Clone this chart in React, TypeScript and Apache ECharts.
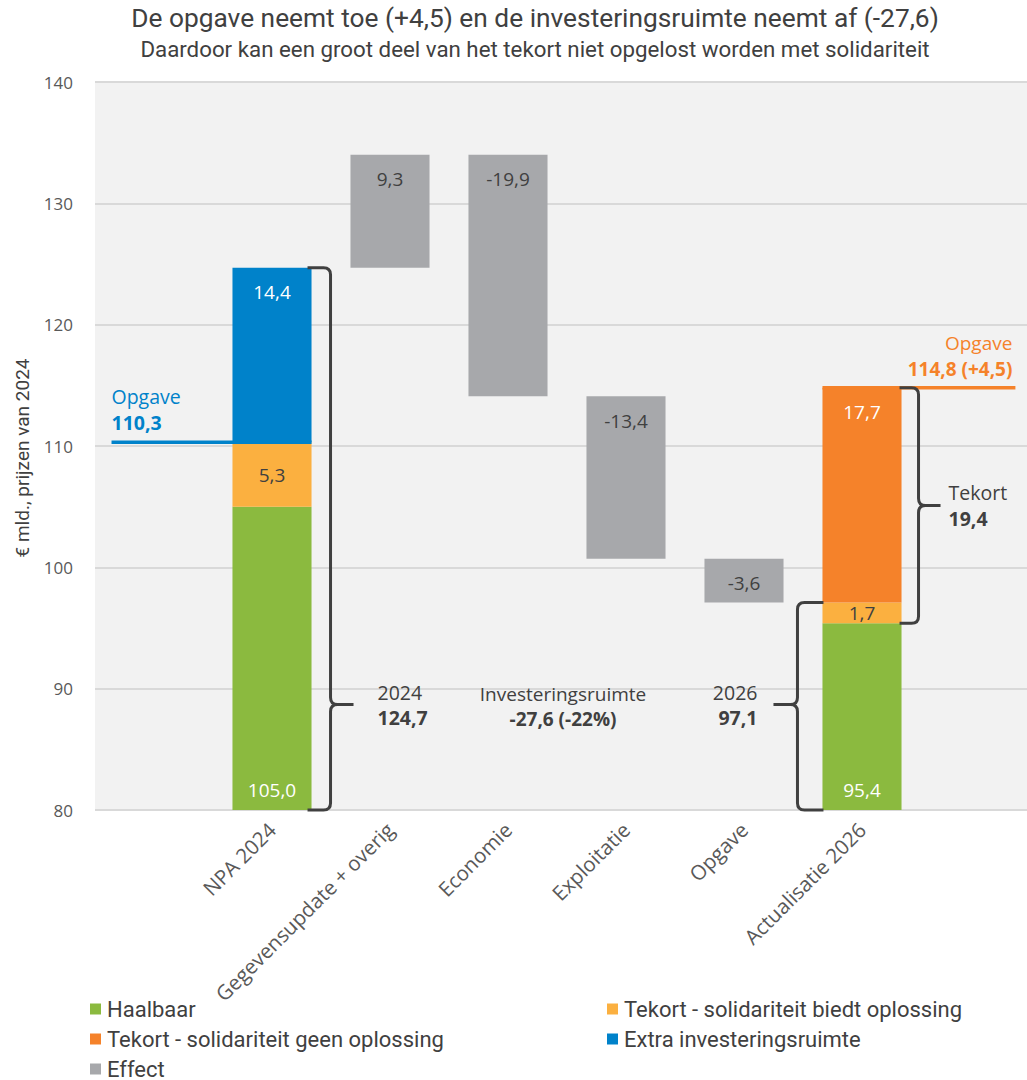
import React, { useEffect, useRef } from 'react';
import * as echarts from 'echarts';

// ---------- data ----------
const categories = [' ', 'NPA 2024', 'Gegevensupdate + overig', 'Economie', 'Exploitatie', 'Opgave', 'Actualisatie 2026', '  '];
const yTicks = [80, 90, 100, 110, 120, 130, 140];

const haalbaar = [null, 105.0, null, null, null, null, 95.4, null];
const tekortBiedt = [null, 5.3, null, null, null, null, 1.7, null];
const tekortGeen = [null, null, null, null, null, null, 17.7, null];
const extraRuimte = [null, 14.4, null, null, null, null, null, null];
const effects = [null, null, 9.3, -19.9, -13.4, -3.6, null, null];

const opgave2024 = 110.3;
const opgave2026 = 114.8;
const opgaveDelta = 4.5;
const totaal2024 = 124.7;
const totaal2026 = 97.1;
const tekort2026 = 19.4;
const investeringsDelta = -27.6;
const investeringsPct = -22;

const seriesNames = [
  'Haalbaar',
  'Tekort - solidariteit biedt oplossing',
  'Tekort - solidariteit geen oplossing',
  'Extra investeringsruimte',
  'Effect',
];

// ---------- helpers ----------
const fmt = (v: number) => v.toFixed(1).replace('.', ',');
const FONT = "'Open Sans', 'Noto Sans', sans-serif";
const COND = "'Roboto', 'Noto Sans', sans-serif";
const DARK = '#404040';
const GREY_TXT = '#595959';
const C_GREEN = '#8BBA3F';
const C_LORANGE = '#FBB040';
const C_ORANGE = '#F5822A';
const C_BLUE = '#0082CA';
const C_GREY = '#A7A8AB';

// waterfall base and heights for effect bars
const baseVals: (number | null)[] = categories.map(() => null);
const effectHeights: (number | null)[] = categories.map(() => null);
{
  let running = totaal2024;
  effects.forEach((e, i) => {
    if (e == null) return;
    const next = running + e;
    baseVals[i] = Math.min(running, next);
    effectHeights[i] = Math.abs(e);
    running = next;
  });
}

function bracePath(xs: number, y1: number, y2: number, ym: number, d: number, xa: number, xt: number, r: number) {
  return [
    `M ${xa} ${y1}`,
    `L ${xs - d * r} ${y1}`,
    `Q ${xs} ${y1} ${xs} ${y1 + r}`,
    `L ${xs} ${ym - r}`,
    `Q ${xs} ${ym} ${xs + d * r} ${ym}`,
    `L ${xt} ${ym}`,
    `M ${xs + d * r} ${ym}`,
    `Q ${xs} ${ym} ${xs} ${ym + r}`,
    `L ${xs} ${y2 - r}`,
    `Q ${xs} ${y2} ${xs - d * r} ${y2}`,
    `L ${xa} ${y2}`,
  ].join(' ');
}

const legendItems = [
  { name: seriesNames[0], left: 90, top: 998 },
  { name: seriesNames[1], left: 607, top: 998 },
  { name: seriesNames[2], left: 90, top: 1028 },
  { name: seriesNames[3], left: 607, top: 1028 },
  { name: seriesNames[4], left: 90, top: 1058 },
];

export default function App() {
  const ref = useRef<HTMLDivElement>(null);

  useEffect(() => {
    if (!ref.current) return;
    const chart = echarts.init(ref.current, null, { renderer: 'svg' });

    const barLabel = (position: string, color: string, distance = 15) => ({
      show: true,
      position,
      distance,
      color,
      fontFamily: FONT,
      fontSize: 19,
      formatter: (p: any) => fmt(p.value),
    });

    const renderAnnotations = (params: any, api: any) => {
      const band = api.size([1, 0])[0];
      const bw = band * 0.67;
      const X = (i: number) => api.coord([i, 100])[0];
      const Y = (v: number) => api.coord([0, v])[1];
      const children: any[] = [];
      // two-line annotation: regular first line, bold second line, as one rich text
      const txt2 = (l1: string, l2: string, x: number, yMid: number, align: string, color: string, size = 19.5, lh = 25) => ({
        type: 'text',
        style: {
          text: `{a|${l1}}\n{b|${l2}}`,
          x,
          y: yMid,
          align,
          verticalAlign: 'middle',
          fill: color,
          rich: {
            a: { fontFamily: FONT, fontSize: size, lineHeight: lh, fill: color, align },
            b: { fontFamily: FONT, fontSize: size, fontWeight: 'bold', lineHeight: lh, fill: color, align },
          },
        },
      });

      // Opgave 2024 line + label
      const cx1 = X(1);
      const yO1 = Y(opgave2024);
      const xL1 = cx1 - 1.36 * band;
      children.push({
        type: 'line',
        shape: { x1: xL1, y1: yO1, x2: cx1 + bw / 2, y2: yO1 },
        style: { stroke: C_BLUE, lineWidth: 3.5 },
      });
      children.push(txt2('Opgave', fmt(opgave2024), xL1, yO1 - 33, 'left', C_BLUE, 19.5, 26));

      // Opgave 2026 line + label
      const cx6 = X(6);
      const yO2 = Y(opgave2026);
      const xR2 = cx6 + 1.3 * band;
      children.push({
        type: 'line',
        shape: { x1: cx6 - bw / 2, y1: yO2, x2: xR2, y2: yO2 },
        style: { stroke: C_ORANGE, lineWidth: 3.5 },
      });
      children.push(
        txt2('Opgave', `${fmt(opgave2026)} (+${fmt(opgaveDelta)})`, xR2 - 3, yO2 - 32, 'right', C_ORANGE, 19, 25.5)
      );

      const braceStyle = { stroke: DARK, lineWidth: 3, fill: null, lineJoin: 'round', lineCap: 'butt' };
      const tipVal = 88.7;

      // Brace 2024
      {
        const xs = cx1 + bw / 2 + 19;
        const ym = Y(tipVal);
        const xt = xs + 23;
        children.push({
          type: 'path',
          shape: { pathData: bracePath(xs, Y(totaal2024), Y(80), ym, 1, cx1 + bw / 2 - 4, xt, 7) },
          style: braceStyle,
        });
        children.push(txt2('2024', fmt(totaal2024), xt + 24, ym + 0.5, 'left', DARK));
      }

      // Investeringsruimte text
      {
        const ym = Y(tipVal);
        const xm = (X(3) + X(4)) / 2 - 4;
        children.push(
          txt2('Investeringsruimte', `${fmt(investeringsDelta)} (${investeringsPct}%)`, xm, ym + 2, 'center', DARK, 19, 25.5)
        );
      }

      // Brace 2026
      {
        const xs = cx6 - bw / 2 - 25;
        const ym = Y(tipVal);
        const xt = xs - 24;
        children.push({
          type: 'path',
          shape: { pathData: bracePath(xs, Y(totaal2026), Y(80), ym, -1, cx6 - bw / 2 + 1, xt, 7) },
          style: braceStyle,
        });
        children.push(txt2('2026', fmt(totaal2026), xt - 16, ym + 0.5, 'right', DARK));
      }

      // Brace Tekort
      {
        const xs = cx6 + bw / 2 + 17;
        const y1 = Y(opgave2026);
        const y2 = Y(haalbaar[6] as number);
        const ym = (y1 + y2) / 2;
        const xt = xs + 22;
        children.push({
          type: 'path',
          shape: { pathData: bracePath(xs, y1, y2, ym, 1, cx6 + bw / 2 - 2, xt, 7) },
          style: braceStyle,
        });
        children.push(txt2('Tekort', fmt(tekort2026), xt + 8, ym, 'left', DARK, 19.5, 26));
      }

      return { type: 'group', children };
    };

    const option: any = {
      animation: false,
      backgroundColor: '#FFFFFF',
      title: [
        {
          text: 'De opgave neemt toe (+4,5) en de investeringsruimte neemt af (-27,6)',
          subtext: 'Daardoor kan een groot deel van het tekort niet opgelost worden met solidariteit',
          left: 535,
          top: 4,
          padding: 0,
          textAlign: 'center',
          itemGap: 5,
          textStyle: { fontFamily: COND, fontSize: 26.3, fontWeight: 'normal', color: DARK, lineHeight: 28 },
          subtextStyle: { fontFamily: COND, fontSize: 22.3, color: DARK, lineHeight: 23 },
        },
      ],
      grid: {
        left: 95,
        right: 0,
        top: 82,
        bottom: 270,
        show: true,
        backgroundColor: '#F2F2F2',
        borderWidth: 0,
      },
      legend: legendItems.map((it) => ({
        data: [it.name],
        left: it.left,
        top: it.top,
        padding: 0,
        itemWidth: 11,
        itemHeight: 11,
        icon: 'rect',
        textStyle: { fontFamily: COND, fontSize: 22, color: DARK, lineHeight: 20, padding: [0, 0, 0, 1] },
      })),
      xAxis: {
        type: 'category',
        data: categories,
        axisTick: { show: false },
        axisLine: { show: false },
        axisLabel: {
          interval: 0,
          rotate: 45,
          margin: 16,
          fontFamily: FONT,
          fontSize: 20.5,
          color: GREY_TXT,
        },
      },
      yAxis: {
        type: 'value',
        min: yTicks[0],
        max: yTicks[yTicks.length - 1],
        interval: 10,
        name: '€ mld., prijzen van 2024',
        nameLocation: 'middle',
        nameGap: 63,
        nameTextStyle: { fontFamily: COND, fontSize: 19, color: DARK, padding: [0, 24, 0, 0] },
        axisLine: { show: false },
        axisTick: { show: false },
        axisLabel: { margin: 22, fontFamily: FONT, fontSize: 17, color: GREY_TXT },
        splitLine: { lineStyle: { color: '#D9D9D9', width: 2 } },
      },
      series: [
        {
          name: 'base',
          type: 'bar',
          stack: 'w',
          barWidth: '67%',
          silent: true,
          itemStyle: { color: 'rgba(0,0,0,0)' },
          data: baseVals,
        },
        {
          name: seriesNames[0],
          type: 'bar',
          stack: 'w',
          barWidth: '67%',
          itemStyle: { color: C_GREEN },
          label: barLabel('insideBottom', '#FFFFFF', 11),
          data: haalbaar,
        },
        {
          name: seriesNames[1],
          type: 'bar',
          stack: 'w',
          barWidth: '67%',
          itemStyle: { color: C_LORANGE },
          label: barLabel('inside', DARK),
          data: tekortBiedt,
        },
        {
          name: seriesNames[2],
          type: 'bar',
          stack: 'w',
          barWidth: '67%',
          itemStyle: { color: C_ORANGE },
          label: barLabel('insideTop', '#FFFFFF'),
          data: tekortGeen,
        },
        {
          name: seriesNames[3],
          type: 'bar',
          stack: 'w',
          barWidth: '67%',
          itemStyle: { color: C_BLUE },
          label: barLabel('insideTop', '#FFFFFF'),
          data: extraRuimte,
        },
        {
          name: seriesNames[4],
          type: 'bar',
          stack: 'w',
          barWidth: '67%',
          itemStyle: { color: C_GREY },
          label: {
            ...barLabel('insideTop', DARK),
            formatter: (p: any) => fmt(effects[p.dataIndex] as number),
          },
          data: effectHeights,
        },
        {
          name: 'annotations',
          type: 'custom',
          coordinateSystem: 'cartesian2d',
          silent: true,
          z: 10,
          renderItem: renderAnnotations,
          data: [[0, 100]],
        },
      ],
    };

    chart.setOption(option);
    return () => chart.dispose();
  }, []);

  return (
    <div
      ref={ref}
      style={{ position: 'fixed', left: 0, top: 0, width: 1039, height: 1080 }}
    />
  );
}
